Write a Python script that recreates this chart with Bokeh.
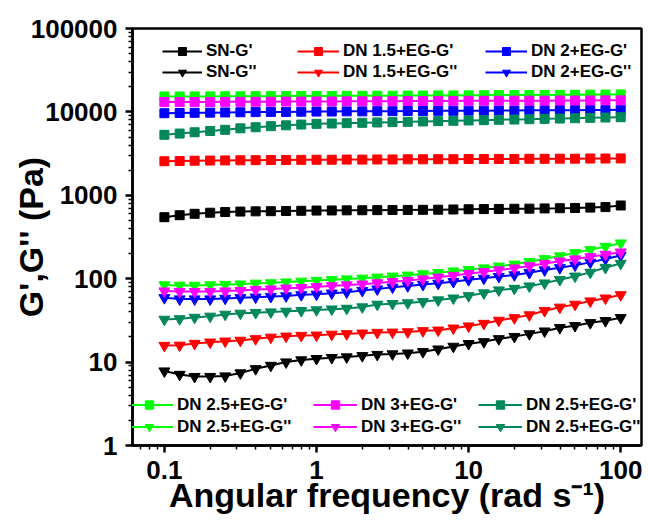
from bokeh.plotting import figure
from bokeh.models import (ColumnDataSource, Legend, LegendItem, FixedTicker,
                          CustomJSTickFormatter)
from bokeh.embed import file_html
from bokeh.resources import INLINE

# ---------------- data ----------------
freq = [0.1, 0.126, 0.158, 0.2, 0.251, 0.316, 0.398, 0.501, 0.631, 0.794,
        1.0, 1.26, 1.58, 2.0, 2.51, 3.16, 3.98, 5.01, 6.31, 7.94,
        10.0, 12.6, 15.8, 20.0, 25.1, 31.6, 39.8, 50.1, 63.1, 79.4, 100.0]

sn_g1 = [546, 577, 600, 618, 630, 638, 642, 645, 648, 652, 656, 658, 660, 662, 664,
         666, 668, 670, 672, 676, 680, 683, 686, 689, 692, 696, 700, 705, 712, 722, 755]
sn_g2 = [7.8, 7.1, 6.7, 6.7, 6.8, 7.4, 8.3, 9.1, 10.0, 10.6, 11.0, 11.3, 11.5, 11.9, 12.3,
         12.5, 12.8, 13.3, 14.3, 15.4, 16.6, 17.5, 19.0, 20.2, 21.8, 23.5, 25.8, 27.3, 29.6, 31.3, 34.0]

dn15_g1 = [2560, 2580, 2600, 2610, 2620, 2630, 2640, 2650, 2650, 2660, 2670, 2670, 2680, 2680, 2690,
           2690, 2700, 2700, 2710, 2710, 2720, 2720, 2730, 2730, 2740, 2740, 2750, 2750, 2760, 2760, 2770]
dn15_g2 = [15.8, 15.9, 16.7, 17.3, 17.8, 18.2, 19.0, 19.8, 20.4, 20.8, 21.0, 21.5, 21.8, 22.2, 22.6,
           22.8, 23.0, 23.7, 24.1, 25.5, 27.0, 29.0, 31.6, 33.9, 36.7, 41.3, 45.4, 49.2, 53.9, 58.4, 64.0]

dn2_g1 = [9640, 9700, 9750, 9800, 9850, 9900, 9950, 10000, 10000, 10050, 10100, 10100, 10150, 10150, 10200,
          10200, 10250, 10250, 10300, 10300, 10350, 10350, 10400, 10400, 10450, 10450, 10500, 10500, 10550, 10550, 10600]
dn2_g2 = [59, 57, 57, 57, 58, 59, 60, 61, 62, 64, 65, 67, 69, 72, 75,
          79, 82, 85, 88, 92, 97, 101, 106, 111, 118, 127, 135, 145, 157, 172, 190]

dn25_g1 = [15300, 15300, 15350, 15350, 15400, 15400, 15450, 15450, 15500, 15500, 15550, 15550, 15600, 15600, 15650,
           15650, 15700, 15700, 15750, 15750, 15800, 15850, 15900, 15900, 15950, 16000, 16000, 16050, 16100, 16150, 16200]
dn25_g2 = [84, 83, 83, 84, 85, 86, 88, 89, 91, 93, 95, 97, 99, 101, 104,
           107, 110, 114, 118, 123, 128, 134, 141, 149, 160, 173, 187, 204, 222, 243, 267]

dn3_g1 = [13100, 13100, 13150, 13150, 13200, 13200, 13250, 13250, 13300, 13300, 13350, 13350, 13400, 13400, 13450,
          13450, 13500, 13500, 13550, 13550, 13600, 13600, 13600, 13650, 13650, 13650, 13700, 13700, 13700, 13750, 13750]
dn3_g2 = [71, 70, 70, 70, 71, 72, 74, 75, 77, 78, 80, 82, 84, 86, 89,
          92, 95, 99, 104, 109, 115, 121, 127, 134, 142, 152, 162, 172, 183, 195, 208]

dn25b_g1 = [5310, 5500, 5700, 5900, 6100, 6350, 6550, 6750, 6900, 7050, 7190, 7260, 7330, 7400, 7470,
            7540, 7600, 7680, 7750, 7820, 7890, 7960, 8030, 8100, 8170, 8250, 8320, 8400, 8480, 8560, 8630]
dn25b_g2 = [32.5, 33.0, 34.3, 35.4, 37.3, 38.4, 39.1, 39.8, 40.6, 41.3, 42.2, 43.1, 44.0, 45.8, 49.2,
            50.2, 51.2, 52.9, 55.5, 58.4, 62.3, 67.3, 73.0, 76.3, 81.4, 88.5, 97.4, 107, 119, 136, 152]

x_ticks = [0.1, 1, 10, 100]
x_labels = ["0.1", "1", "10", "100"]
y_ticks = [1, 10, 100, 1000, 10000, 100000]
y_labels = ["1", "10", "100", "1000", "10000", "100000"]

series = [
    ("SN-G'", sn_g1, "#000000", "square"),
    ("SN-G''", sn_g2, "#000000", "inverted_triangle"),
    ("DN 1.5+EG-G'", dn15_g1, "#FF0000", "square"),
    ("DN 1.5+EG-G''", dn15_g2, "#FF0000", "inverted_triangle"),
    ("DN 2+EG-G'", dn2_g1, "#0000FF", "square"),
    ("DN 2+EG-G''", dn2_g2, "#0000FF", "inverted_triangle"),
    ("DN 2.5+EG-G'", dn25_g1, "#00FF00", "square"),
    ("DN 2.5+EG-G''", dn25_g2, "#00FF00", "inverted_triangle"),
    ("DN 3+EG-G'", dn3_g1, "#FF00FF", "square"),
    ("DN 3+EG-G''", dn3_g2, "#FF00FF", "inverted_triangle"),
    ("DN 2.5+EG-G'", dn25b_g1, "#00875A", "square"),
    ("DN 2.5+EG-G''", dn25b_g2, "#00875A", "inverted_triangle"),
]

FONT = "Liberation Sans"

p = figure(width=648, height=525, x_axis_type="log", y_axis_type="log",
           x_range=(0.0617, 137), y_range=(1, 100000),
           output_backend="svg", toolbar_location=None,
           min_border_left=132, min_border_right=7, min_border_top=28, min_border_bottom=80)

p.xgrid.visible = False
p.ygrid.visible = False
p.outline_line_color = "black"
p.outline_line_width = 2.5
p.background_fill_color = "white"
p.border_fill_color = "white"

x_minor = [v * m for v in [0.01, 0.1, 1, 10, 100] for m in range(2, 10)]
y_minor = [v * m for v in [1, 10, 100, 1000, 10000] for m in range(2, 10)]
p.xaxis.ticker = FixedTicker(ticks=x_ticks, minor_ticks=x_minor)
p.yaxis.ticker = FixedTicker(ticks=y_ticks, minor_ticks=y_minor)
fmt_code = "const i = tvals.indexOf(tick); return i >= 0 ? tlabels[i] : '';"
p.xaxis.formatter = CustomJSTickFormatter(args=dict(tvals=x_ticks, tlabels=x_labels), code=fmt_code)
p.yaxis.formatter = CustomJSTickFormatter(args=dict(tvals=y_ticks, tlabels=y_labels), code=fmt_code)

for ax in (p.xaxis[0], p.yaxis[0]):
    ax.axis_line_width = 2.5
    ax.axis_line_color = "black"
    ax.major_tick_line_width = 2.5
    ax.minor_tick_line_width = 1.5
    ax.major_tick_out = 7
    ax.major_tick_in = 0
    ax.minor_tick_out = 4
    ax.minor_tick_in = 0
    ax.major_label_text_font = FONT
    ax.major_label_text_font_style = "bold"
    ax.major_label_text_font_size = "26px"
    ax.major_label_text_color = "black"
    ax.axis_label_text_font = FONT
    ax.axis_label_text_font_style = "bold"
    ax.axis_label_text_font_size = "34px"
    ax.axis_label_text_color = "black"

p.xaxis.axis_label = "Angular frequency (rad s\u207b\u00b9)"
p.yaxis.axis_label = "G',G'' (Pa)"
p.xaxis.major_label_standoff = 8
p.yaxis.major_label_standoff = 8
p.xaxis.axis_label_standoff = -6
p.yaxis.axis_label_standoff = -22

items = []
for name, vals, color, marker in series:
    src = ColumnDataSource(dict(x=freq, y=vals))
    ln = p.line("x", "y", source=src, line_color=color, line_width=2)
    sz = 9 if marker == "square" else 11
    sc = p.scatter("x", "y", source=src, marker=marker, size=sz,
                   fill_color=color, line_color=color)
    items.append(LegendItem(label=name, renderers=[ln, sc]))


def add_legend(its, x, y, gw, gh):
    lg = Legend(items=its, location=(x, y), orientation="vertical",
                glyph_width=gw, glyph_height=gh, label_height=gh, spacing=1,
                label_standoff=4, padding=0, margin=0,
                border_line_alpha=0, background_fill_alpha=0,
                label_text_font=FONT, label_text_font_style="bold",
                label_text_font_size="17px", label_text_color="black")
    p.add_layout(lg, "center")


# top legend: 3 columns x 2 rows
add_legend([items[0], items[1]], 30, 363, 40, 20)
add_legend([items[2], items[3]], 165, 363, 42, 20)
add_legend([items[4], items[5]], 353, 363, 42, 20)
# bottom legend
add_legend([items[6], items[7]], -7, 8, 48, 21)
add_legend([items[8], items[9]], 181, 8, 44, 21)
add_legend([items[10], items[11]], 346, 8, 44, 21)

open("out.html", "w").write(file_html(p, INLINE))
